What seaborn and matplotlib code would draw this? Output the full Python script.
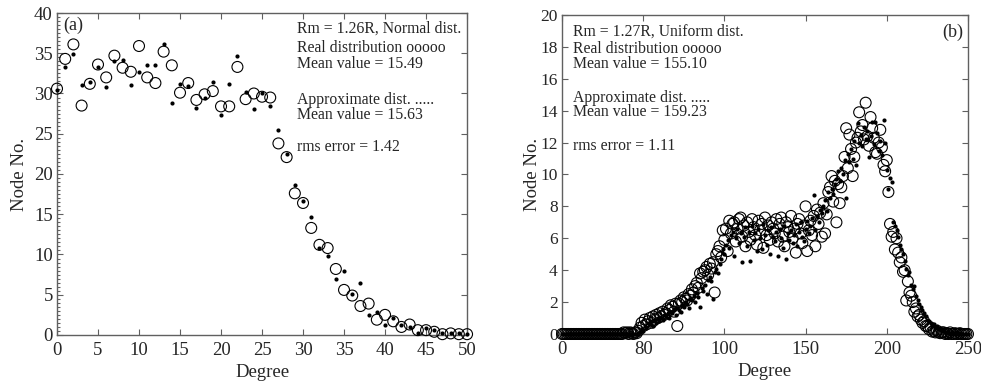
import numpy as np
import matplotlib
matplotlib.use("Agg")
import matplotlib.pyplot as plt
from matplotlib.ticker import MultipleLocator
import seaborn as sns

# ---- panel (a): Rm = 1.26R, normal distribution ----
degree_a = np.arange(0, 51)
real_a = [30.6, 34.3, 36.1, 28.5, 31.2, 33.6, 32.0, 34.7, 33.2, 32.7,
          35.9, 32.0, 31.3, 35.2, 33.5, 30.1, 31.3, 29.2, 29.9, 30.3,
          28.4, 28.4, 33.3, 29.3, 30.0, 29.6, 29.5, 23.8, 22.1, 17.6,
          16.4, 13.3, 11.2, 10.8, 8.2, 5.6, 4.9, 3.6, 3.9, 1.9,
          2.5, 1.7, 1.0, 1.3, 0.6, 0.6, 0.4, 0.1, 0.2, 0.1, 0.1]
approx_a = [30.4, 33.3, 34.9, 31.0, 31.4, 33.3, 30.8, 34.0, 34.1, 31.1,
            32.7, 33.5, 33.5, 36.1, 28.8, 31.2, 30.9, 28.2, 29.5, 31.4,
            27.3, 31.2, 34.7, 30.2, 28.1, 30.0, 28.4, 25.5, 22.5, 18.6,
            16.6, 14.6, 10.8, 9.8, 7.0, 7.9, 5.1, 6.4, 2.5, 2.8,
            1.2, 2.1, 1.3, 1.0, 0.3, 0.9, 0.6, 0.3, 0.3, 0.2, 0.1]
text_a = ["Rm = 1.26R, Normal dist.", "Real distribution ooooo", "Mean value = 15.49",
          "Approximate dist. .....", "Mean value = 15.63", "rms error = 1.42"]

# ---- panel (b): Rm = 1.27R, uniform distribution ----
degree_b = np.arange(0, 251)
real_b = [0, 0, 0, 0, 0, 0, 0, 0, 0, 0,
          0, 0, 0, 0, 0, 0, 0, 0, 0, 0,
          0, 0, 0, 0, 0, 0, 0, 0, 0, 0,
          0, 0, 0, 0, 0, 0, 0, 0, 0.1, 0.05,
          0.1, 0, 0.1, 0.05, 0, 0.1, 0.05, 0.2, 0.4, 0.7,
          0.5, 0.9, 0.6, 0.8, 1.0, 0.7, 1.1, 0.9, 1.2, 1.0,
          1.3, 1.1, 1.4, 1.2, 1.3, 1.6, 1.5, 1.8, 1.7, 1.4,
          1.9, 0.5, 1.9, 2.1, 2.0, 2.3, 2.2, 2.1, 2.5, 2.4,
          2.8, 2.6, 3.0, 3.2, 2.9, 3.8, 3.5, 3.9, 4.0, 4.2,
          3.7, 4.4, 4.1, 4.5, 2.6, 5.0, 5.2, 5.5, 4.8, 6.5,
          5.9, 6.6, 5.2, 7.1, 6.3, 6.9, 7.0, 5.8, 6.6, 7.2,
          7.3, 6.1, 6.8, 5.5, 7.0, 6.4, 5.9, 7.2, 6.7, 6.2,
          5.6, 7.1, 6.5, 6.9, 5.4, 7.3, 6.2, 6.8, 5.9, 7.0,
          6.6, 6.3, 7.2, 5.8, 6.9, 7.3, 6.1, 5.5, 7.0, 6.7,
          6.4, 7.4, 6.0, 6.6, 5.1, 6.9, 7.2, 6.3, 5.7, 6.8,
          8.0, 5.2, 6.5, 7.1, 6.2, 7.4, 5.5, 7.8, 6.9, 7.6,
          6.1, 8.2, 6.3, 7.5, 8.9, 9.2, 9.9, 8.3, 9.6, 7.0,
          9.4, 8.2, 9.2, 9.9, 11.1, 12.9, 10.4, 12.5, 11.6, 9.9,
          11.1, 12.0, 12.3, 13.9, 12.7, 13.1, 12.2, 14.5, 12.4, 11.8,
          13.6, 12.9, 12.3, 11.4, 11.3, 12.0, 12.8, 11.7, 10.6, 10.2,
          10.9, 8.9, 6.9, 6.1, 6.4, 5.3, 6.0, 5.1, 4.5, 4.8,
          3.9, 4.0, 2.1, 3.3, 2.6, 2.4, 2.0, 1.4, 1.6, 1.1,
          1.2, 0.9, 0.7, 0.8, 0.5, 0.5, 0.3, 0.4, 0.15, 0.2,
          0.1, 0.2, 0.1, 0.05, 0.1, 0.1, 0, 0.05, 0, 0.1,
          0, 0, 0.05, 0, 0, 0.05, 0, 0, 0, 0,
          0]
approx_b = [0, 0, 0, 0, 0, 0, 0, 0, 0, 0,
            0, 0, 0, 0, 0, 0, 0, 0, 0, 0,
            0, 0, 0, 0, 0, 0, 0, 0, 0, 0,
            0, 0, 0, 0, 0, 0, 0, 0, 0, 0,
            0, 0, 0, 0, 0, 0, 0, 0, 0.1, 0.3,
            0.2, 0.5, 0.4, 0.7, 0.6, 0.8, 0.5, 0.9, 0.7, 1.0,
            0.8, 1.0, 0.9, 1.2, 1.1, 1.3, 1.0, 1.4, 1.3, 1.5,
            1.2, 1.6, 1.5, 1.4, 1.8, 1.7, 2.0, 1.9, 1.6, 2.2,
            2.1, 2.4, 2.0, 2.6, 2.3, 1.7, 2.9, 2.7, 3.1, 2.5,
            3.4, 3.6, 3.3, 2.2, 3.9, 4.1, 3.8, 4.4, 4.7, 5.3,
            5.0, 5.6, 5.9, 5.4, 6.2, 6.4, 4.9, 6.0, 6.6, 5.7,
            6.3, 4.5, 6.1, 6.7, 5.5, 6.4, 4.6, 6.8, 5.9, 6.3,
            5.2, 6.6, 6.0, 5.3, 6.9, 6.2, 5.6, 6.5, 5.0, 6.7,
            6.1, 5.8, 6.4, 4.9, 6.6, 6.0, 5.4, 6.8, 4.7, 6.3,
            5.9, 6.5, 5.7, 6.2, 6.9, 5.5, 6.4, 7.0, 6.1, 5.8,
            6.6, 7.1, 6.3, 6.8, 7.3, 8.7, 6.5, 7.4, 7.0, 7.8,
            7.6, 8.0, 8.4, 7.7, 8.9, 8.5, 9.1, 8.8, 9.4, 9.7,
            10.2, 9.6, 10.4, 10.0, 10.9, 8.5, 11.3, 10.8, 11.6, 11.0,
            12.1, 10.6, 13.2, 12.0, 12.5, 11.8, 13.0, 12.2, 12.7, 11.1,
            12.4, 13.3, 11.9, 13.3, 12.6, 11.5, 12.1, 11.2, 13.4, 12.0,
            10.3, 9.1, 9.8, 9.5, 7.0, 6.8, 6.5, 6.1, 5.6, 5.3,
            5.0, 4.6, 4.1, 3.7, 3.9, 3.1, 2.8, 3.0, 2.4, 2.1,
            1.9, 1.7, 1.5, 1.3, 1.1, 0.9, 0.8, 0.7, 0.5, 0.6,
            0.4, 0.5, 0.3, 0.3, 0.2, 0.2, 0.1, 0.1, 0.1, 0.0,
            0.1, 0, 0, 0.1, 0, 0, 0, 0, 0, 0,
            0]
xticks_b = [0, 50, 100, 150, 200, 250]
xticklabels_b = ["0", "80", "100", "150", "200", "250"]
text_b = ["Rm = 1.27R, Uniform dist.", "Real distribution ooooo", "Mean value = 155.10",
          "Approximate dist. .....", "Mean value = 159.23", "rms error = 1.11"]

sns.set_style("ticks")
plt.rcParams["font.family"] = ["Liberation Serif", "DejaVu Serif"]
plt.rcParams["xtick.direction"] = "in"
plt.rcParams["ytick.direction"] = "in"

fig = plt.figure(figsize=(9.81, 3.87), dpi=100)
ax_a = fig.add_axes([0.0581, 0.1344, 0.418, 0.832])
ax_b = fig.add_axes([0.5729, 0.137, 0.4138, 0.8243])

spine_col = "#606060"


def draw_points(ax, x, real, approx, s_circle, s_dot):
    sns.scatterplot(x=x, y=real, ax=ax, marker="o", s=s_circle, facecolor="none",
                    edgecolor="black", linewidth=0.8, clip_on=False, zorder=3)
    sns.scatterplot(x=x, y=approx, ax=ax, marker="o", s=s_dot, color="black",
                    edgecolor="black", linewidth=0, clip_on=False, zorder=4)


def style_axes(ax):
    for sp in ax.spines.values():
        sp.set_visible(True)
        sp.set_color(spine_col)
        sp.set_linewidth(1.0)
    ax.tick_params(which="both", top=True, right=True, color=spine_col,
                   width=0.8)
    ax.tick_params(which="major", length=4)
    ax.tick_params(axis="x", pad=5)
    ax.tick_params(axis="y", pad=3)


# panel (a)
draw_points(ax_a, degree_a, real_a, approx_a, 62, 9)
ax_a.set_xlim(0, 50)
ax_a.set_ylim(0, 40)
ax_a.xaxis.set_major_locator(MultipleLocator(5))
ax_a.yaxis.set_major_locator(MultipleLocator(5))
ax_a.yaxis.set_minor_locator(MultipleLocator(0.5))
style_axes(ax_a)
ax_a.tick_params(which="minor", axis="y", length=2, right=False)
ax_a.tick_params(axis="both", labelsize=13.5)
ax_a.set_xlabel("Degree", fontsize=13.5, labelpad=4)
ax_a.set_ylabel("Node No.", fontsize=13.5)
ax_a.yaxis.set_label_coords(-0.071, 0.5)
ax_a.text(0.015, 0.963, "(a)", transform=ax_a.transAxes, fontsize=13,
          ha="left", va="center")
for txt, yf in zip(text_a, [0.950, 0.891, 0.842, 0.730, 0.683, 0.584]):
    ax_a.text(0.585, yf, txt, transform=ax_a.transAxes, fontsize=11.3,
              ha="left", va="center")

# panel (b)
draw_points(ax_b, degree_b, real_b, approx_b, 62, 9)
ax_b.set_xlim(0, 250)
ax_b.set_ylim(0, 20)
ax_b.set_xticks(xticks_b)
ax_b.set_xticklabels(xticklabels_b)
ax_b.yaxis.set_major_locator(MultipleLocator(2))
style_axes(ax_b)
ax_b.tick_params(axis="x", labelsize=13.5)
ax_b.tick_params(axis="y", labelsize=12.5)
ax_b.set_xlabel("Degree", fontsize=13.5, labelpad=4)
ax_b.set_ylabel("Node No.", fontsize=13.5)
ax_b.yaxis.set_label_coords(-0.051, 0.5)
ax_b.text(0.988, 0.947, "(b)", transform=ax_b.transAxes, fontsize=13,
          ha="right", va="center")
for txt, yf in zip(text_b, [0.947, 0.893, 0.846, 0.740, 0.696, 0.589]):
    ax_b.text(0.027, yf, txt, transform=ax_b.transAxes, fontsize=11.3,
              ha="left", va="center")

fig.savefig("out.png", dpi=100)
